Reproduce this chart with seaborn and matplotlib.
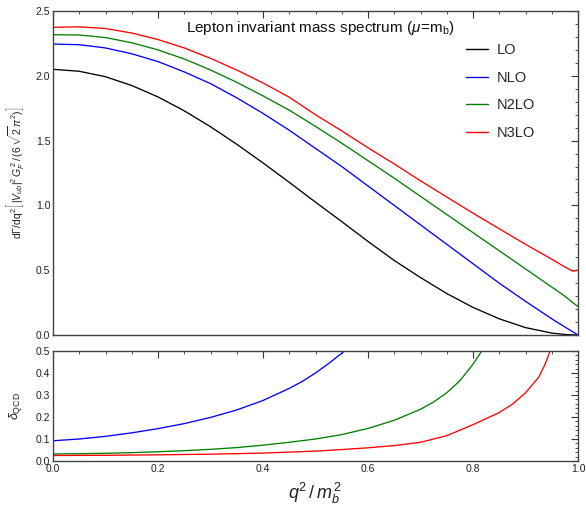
import numpy as np
import pandas as pd
import matplotlib
matplotlib.use("Agg")
import matplotlib.pyplot as plt
import seaborn as sns
from matplotlib.ticker import MultipleLocator, FormatStrFormatter

sns.set_theme(style="white")
plt.rcParams['font.family'] = ['Liberation Sans', 'DejaVu Sans']
plt.rcParams['mathtext.fontset'] = 'custom'
plt.rcParams['mathtext.rm'] = 'Liberation Sans'
plt.rcParams['mathtext.it'] = 'Liberation Sans:italic'
plt.rcParams['mathtext.bf'] = 'Liberation Sans:bold'

# ---- data ----
orders = ["LO", "NLO", "N2LO", "N3LO"]
colors = ["#000000", "#0000ff", "#008000", "#ff0000"]

q2 = [0.0, 0.05, 0.1, 0.15, 0.2, 0.25, 0.3, 0.35, 0.4, 0.45, 0.5, 0.55, 0.6,
      0.65, 0.7, 0.75, 0.8, 0.85, 0.9, 0.95, 0.975, 0.99, 1.0]
lo = [2.05, 2.035, 1.993, 1.925, 1.837, 1.73, 1.607, 1.472, 1.328, 1.178, 1.025,
      0.875, 0.722, 0.575, 0.443, 0.32, 0.213, 0.125, 0.057, 0.015, 0.004, 0.001, 0.0]
nlo = [2.245, 2.24, 2.215, 2.17, 2.11, 2.03, 1.94, 1.83, 1.71, 1.58, 1.44,
       1.30, 1.15, 1.00, 0.85, 0.70, 0.55, 0.40, 0.26, 0.125, 0.062, 0.025, 0.0]
n2lo = [2.317, 2.315, 2.295, 2.255, 2.20, 2.13, 2.045, 1.95, 1.845, 1.735, 1.61,
        1.48, 1.345, 1.21, 1.07, 0.93, 0.79, 0.65, 0.51, 0.37, 0.30, 0.25, 0.22]
n3lo = [2.374, 2.378, 2.365, 2.33, 2.28, 2.215, 2.135, 2.045, 1.945, 1.835, 1.70,
        1.575, 1.445, 1.32, 1.19, 1.065, 0.94, 0.82, 0.70, 0.585, 0.525, 0.493, 0.50]

# relative corrections (lower panel)
q2_d1 = [0.0, 0.05, 0.1, 0.15, 0.2, 0.25, 0.3, 0.35, 0.4, 0.45, 0.475, 0.5,
         0.525, 0.55, 0.575]
d_nlo = [0.092, 0.10, 0.112, 0.128, 0.147, 0.17, 0.198, 0.232, 0.275, 0.33, 0.362,
         0.40, 0.443, 0.49, 0.54]
q2_d2 = [0.0, 0.05, 0.1, 0.15, 0.2, 0.25, 0.3, 0.35, 0.4, 0.45, 0.5, 0.55, 0.6,
         0.65, 0.7, 0.725, 0.75, 0.775, 0.8, 0.825]
d_n2lo = [0.032, 0.033, 0.035, 0.038, 0.042, 0.047, 0.053, 0.061, 0.072, 0.085, 0.10,
          0.12, 0.148, 0.185, 0.235, 0.268, 0.31, 0.365, 0.44, 0.53]
q2_d3 = [0.0, 0.1, 0.2, 0.3, 0.4, 0.5, 0.55, 0.6, 0.65, 0.7, 0.75, 0.8, 0.85,
         0.875, 0.9, 0.925, 0.9375, 0.95]
d_n3lo = [0.025, 0.026, 0.028, 0.031, 0.036, 0.045, 0.052, 0.06, 0.07, 0.085, 0.115,
          0.165, 0.22, 0.258, 0.31, 0.38, 0.44, 0.52]

top_df = pd.concat([
    pd.DataFrame({"q2": q2, "val": v, "order": o})
    for o, v in zip(orders, [lo, nlo, n2lo, n3lo])
], ignore_index=True)
bot_df = pd.concat([
    pd.DataFrame({"q2": x, "val": v, "order": o})
    for o, x, v in zip(orders[1:], [q2_d1, q2_d2, q2_d3], [d_nlo, d_n2lo, d_n3lo])
], ignore_index=True)

W, H = 586, 508
fig = plt.figure(figsize=(W / 100, H / 100), dpi=100)
L, R = 53 / W, 578 / W
ax1 = fig.add_axes([L, 1 - 335 / H, R - L, (335 - 11) / H])
ax2 = fig.add_axes([L, 1 - 461 / H, R - L, (461 - 351) / H])

sns.lineplot(data=top_df, x="q2", y="val", hue="order", hue_order=orders,
             palette=colors, ax=ax1, linewidth=0.95, sort=False, estimator=None)
sns.lineplot(data=bot_df, x="q2", y="val", hue="order", hue_order=orders[1:],
             palette=colors[1:], ax=ax2, linewidth=0.95, sort=False, estimator=None,
             legend=False)

for ax in (ax1, ax2):
    ax.set_xlim(0, 1)
    ax.xaxis.set_major_locator(MultipleLocator(0.2))
    ax.xaxis.set_minor_locator(MultipleLocator(0.05))
    ax.tick_params(which="both", direction="in", top=True, right=True,
                   labelsize=7.5, colors="#333333", pad=2)
    ax.tick_params(which="major", length=5, width=0.8)
    ax.tick_params(which="minor", length=2.5, width=0.6)
    for s in ax.spines.values():
        s.set_color("#444444")
        s.set_linewidth(1.0)
    ax.set_xlabel("")
    ax.set_ylabel("")
    ax.xaxis.set_major_formatter(FormatStrFormatter("%.1f"))
    ax.yaxis.set_major_formatter(FormatStrFormatter("%.1f"))
    for lab in ax.get_xticklabels() + ax.get_yticklabels():
        lab.set_color("#222222")

ax1.set_ylim(0, 2.5)
ax1.yaxis.set_major_locator(MultipleLocator(0.5))
ax1.yaxis.set_minor_locator(MultipleLocator(0.1))
ax1.tick_params(axis="x", labelbottom=False)

ax2.set_ylim(0, 0.5)
ax2.yaxis.set_major_locator(MultipleLocator(0.1))
ax2.yaxis.set_minor_locator(MultipleLocator(0.02))

ax1.text(0.51, 0.975, r"Lepton invariant mass spectrum $(\mu\!=\!\mathrm{m_b})$",
         transform=ax1.transAxes, ha="center", va="top", fontsize=11,
         color="#111111")

leg = ax1.legend(loc="upper left", bbox_to_anchor=(0.775, 0.92), frameon=False,
                 fontsize=10.5, handlelength=1.55, handletextpad=0.6,
                 labelspacing=0.95, borderaxespad=0)
for line in leg.get_lines():
    line.set_linewidth(1.0)

fig.text(15 / W, 1 - 173 / H,
         r"$\mathrm{d\Gamma/dq^2}\left[\,|V_{ub}|^2\,G_F^{\,2}\,/\,(6\,\sqrt{2}\,\pi^2)\right]$",
         rotation=90, ha="center", va="center", fontsize=7.5, color="#222222")
fig.text(15 / W, 1 - 406 / H, r"$\delta_{\mathrm{QCD}}$", rotation=90,
         ha="center", va="center", fontsize=9, color="#222222")
fig.text(315 / W, 1 - 493 / H, r"$q^2\,/\,m_b^{\,2}$", ha="center", va="center",
         fontsize=13, color="#222222")

fig.savefig("out.png", dpi=100)
